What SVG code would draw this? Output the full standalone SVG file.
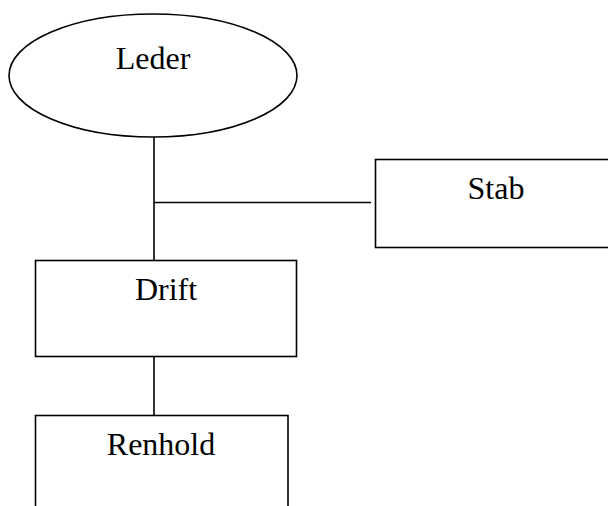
<svg xmlns="http://www.w3.org/2000/svg" width="608" height="506" viewBox="0 0 608 506">
  <style>
    .shape { fill: #ffffff; stroke: #000000; stroke-width: 1.6; }
    .link { fill: none; stroke: #000000; stroke-width: 1.6; }
    .label { font-family: "Liberation Serif", "Times New Roman", serif; font-size: 32px; fill: #000000; text-anchor: middle; }
  </style>
  <rect width="608" height="506" fill="#ffffff"/>
  <g id="connectors">
    <line class="link" x1="154" y1="137" x2="154" y2="260.5"/>
    <line class="link" x1="154" y1="202.5" x2="371" y2="202.5"/>
    <line class="link" x1="154" y1="356.5" x2="154" y2="415.5"/>
  </g>
  <g id="leder">
    <ellipse class="shape" cx="153" cy="75.5" rx="144" ry="61.5"/>
    <text class="label" x="153" y="69">Leder</text>
  </g>
  <g id="stab">
    <rect class="shape" x="375.5" y="159.5" width="250" height="88"/>
    <text class="label" x="496" y="199">Stab</text>
  </g>
  <g id="drift">
    <rect class="shape" x="35.5" y="260.5" width="261" height="96"/>
    <text class="label" x="166" y="300">Drift</text>
  </g>
  <g id="renhold">
    <rect class="shape" x="35.5" y="415.5" width="252.5" height="110"/>
    <text class="label" x="161" y="455">Renhold</text>
  </g>
</svg>
